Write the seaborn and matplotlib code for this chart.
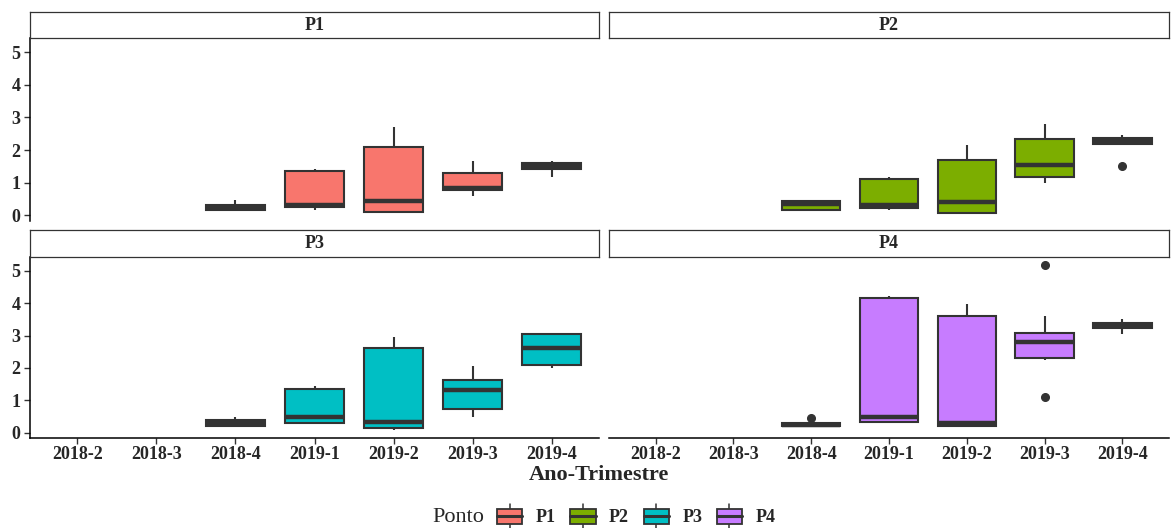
import numpy as np
import pandas as pd
import matplotlib
matplotlib.use("Agg")
import matplotlib.pyplot as plt
import seaborn as sns
from matplotlib.legend_handler import HandlerBase
from matplotlib.patches import Rectangle, Patch
from matplotlib.lines import Line2D

# Quarters on the x axis and the four sampling points
quarters = ["2018-2", "2018-3", "2018-4", "2019-1", "2019-2", "2019-3", "2019-4"]
pontos = ["P1", "P2", "P3", "P4"]
colors = ["#F8766D", "#7CAE00", "#00BFC4", "#C77CFF"]

# Measured values per quarter for each point
p1 = {
    "2018-4": [0.17, 0.17, 0.24, 0.33, 0.48],
    "2019-1": [0.17, 0.25, 0.32, 1.37, 1.43],
    "2019-2": [0.08, 0.10, 0.43, 2.08, 2.71],
    "2019-3": [0.58, 0.79, 0.84, 1.30, 1.68],
    "2019-4": [1.19, 1.42, 1.52, 1.62, 1.68],
}
p2 = {
    "2018-4": [0.17, 0.17, 0.35, 0.43, 0.43],
    "2019-1": [0.16, 0.24, 0.31, 1.13, 1.18],
    "2019-2": [0.09, 0.09, 0.42, 1.70, 2.15],
    "2019-3": [0.98, 1.18, 1.54, 2.33, 2.79],
    "2019-4": [1.52, 2.19, 2.19, 2.24, 2.29, 2.34, 2.38, 2.43, 2.47],
}
p3 = {
    "2018-4": [0.17, 0.19, 0.30, 0.40, 0.48],
    "2019-1": [0.30, 0.30, 0.48, 1.36, 1.44],
    "2019-2": [0.07, 0.14, 0.32, 2.62, 2.94],
    "2019-3": [0.48, 0.72, 1.32, 1.61, 2.05],
    "2019-4": [2.01, 2.09, 2.62, 3.04, 3.09],
}
p4 = {
    "2018-4": [0.20, 0.20, 0.20, 0.22, 0.24, 0.26, 0.28, 0.29, 0.46],
    "2019-1": [0.31, 0.31, 0.47, 4.17, 4.21],
    "2019-2": [0.16, 0.21, 0.29, 3.61, 3.97],
    "2019-3": [1.09, 2.23, 2.32, 2.55, 2.79, 2.95, 3.09, 3.60, 5.17],
    "2019-4": [3.04, 3.22, 3.30, 3.39, 3.50],
}

rows = []
for ponto, samples in zip(pontos, [p1, p2, p3, p4]):
    for q, vals in samples.items():
        for v in vals:
            rows.append((ponto, q, v))
df = pd.DataFrame(rows, columns=["Ponto", "Trimestre", "valor"])

sns.set_style("ticks")
plt.rcParams["font.family"] = ["Liberation Serif", "DejaVu Serif"]

W, H = 1171, 528
fig = plt.figure(figsize=(W / 100, H / 100), dpi=100)
fig.patch.set_facecolor("white")


def fx(x):
    return x / W


def fy(y):
    return 1 - y / H


cols_x = [(30, 599), (609, 1169)]
rows_y = [(38, 221), (257, 438)]
strip_y = [(12, 38), (230, 257)]
edge = "#333333"

for i, (ponto, color) in enumerate(zip(pontos, colors)):
    r, c = divmod(i, 2)
    x0, x1 = cols_x[c]
    y0, y1 = rows_y[r]
    ax = fig.add_axes([fx(x0), fy(y1), fx(x1) - fx(x0), fy(y0) - fy(y1)])
    sns.boxplot(
        data=df[df.Ponto == ponto], x="Trimestre", y="valor", order=quarters,
        color=color, saturation=1, width=0.75, linecolor=edge, linewidth=1.5,
        showcaps=False,
        flierprops=dict(marker="o", markerfacecolor=edge, markeredgecolor=edge,
                        markersize=5.5),
        medianprops=dict(linewidth=3.2, color=edge),
        ax=ax,
    )
    ax.set_xlim(-0.6, len(quarters) - 0.4)
    ax.set_ylim(-0.17, 5.43)
    ax.set_yticks([0, 1, 2, 3, 4, 5])
    ax.set_xlabel("")
    ax.set_ylabel("")
    ax.set_facecolor("white")
    for s in ["top", "right"]:
        ax.spines[s].set_visible(False)
    ax.spines["left"].set_visible(c == 0)
    ax.spines["bottom"].set_visible(r == 1)
    for s in ["left", "bottom"]:
        ax.spines[s].set_color("black")
        ax.spines[s].set_linewidth(1.1)
    ax.tick_params(axis="y", left=(c == 0), labelleft=(c == 0), length=4,
                   width=1, color=edge, pad=3, labelsize=13)
    ax.tick_params(axis="x", bottom=(r == 1), labelbottom=(r == 1), length=4,
                   width=1, color=edge, pad=2, labelsize=13)
    for lab in ax.get_xticklabels() + ax.get_yticklabels():
        lab.set_fontweight("bold")

    # facet strip
    sy0, sy1 = strip_y[r]
    sax = fig.add_axes([fx(x0), fy(sy1), fx(x1) - fx(x0), fy(sy0) - fy(sy1)])
    sax.set_xticks([])
    sax.set_yticks([])
    sax.set_facecolor("white")
    for s in sax.spines.values():
        s.set_color(edge)
        s.set_linewidth(0.9)
    sax.text(0.5, 0.5, ponto, ha="center", va="center", fontsize=13,
             fontweight="bold", transform=sax.transAxes)

fig.text(fx(599), fy(475), "Ano-Trimestre", ha="center", va="center",
         fontsize=16, fontweight="bold")


class BoxKeyHandler(HandlerBase):
    def create_artists(self, legend, orig_handle, xdescent, ydescent, width,
                       height, fontsize, trans):
        fc = orig_handle.get_facecolor()
        x0, y0 = -xdescent, -ydescent
        bh = height * 0.85
        by = y0 + (height - bh) / 2
        xm = x0 + width / 2
        wl = Line2D([xm, xm], [y0 - height * 0.18, by], color=edge, lw=1.1,
                    transform=trans)
        wu = Line2D([xm, xm], [by + bh, y0 + height * 1.18], color=edge, lw=1.1,
                    transform=trans)
        rect = Rectangle((x0, by), width, bh, facecolor=fc, edgecolor=edge,
                         linewidth=1.3, transform=trans)
        med = Line2D([x0, x0 + width], [y0 + height / 2] * 2, color=edge,
                     lw=2.2, transform=trans)
        return [wl, wu, rect, med]


handles = [Patch(facecolor=col) for col in colors]
fig.text(fx(432), fy(517), "Ponto", ha="left", va="center", fontsize=16)
fig.legend(handles, pontos, handler_map={Patch: BoxKeyHandler()},
           loc="center left", bbox_to_anchor=(fx(497), fy(517)), ncol=4,
           frameon=False, prop=dict(weight="bold", size=13),
           handlelength=1.4, handleheight=1.1, handletextpad=0.75,
           columnspacing=0.8, borderpad=0, borderaxespad=0)

fig.savefig("out.png", dpi=100, facecolor="white")
